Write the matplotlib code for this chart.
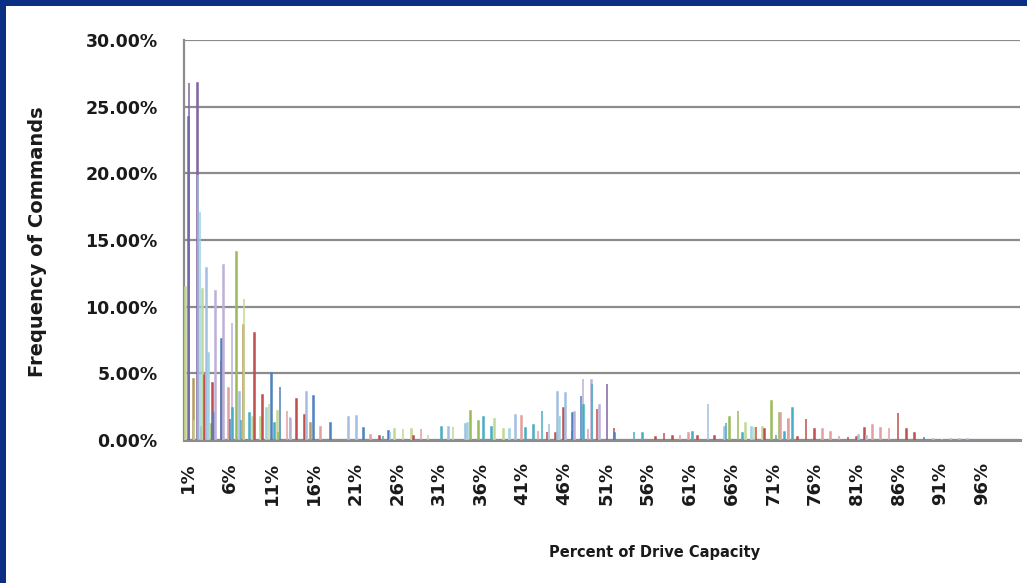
import numpy as np
import matplotlib
matplotlib.use("Agg")
import matplotlib.pyplot as plt
from matplotlib.patches import Rectangle

# capacity buckets 1% .. 100%
categories = [f"{i}%" for i in range(1, 101)]

# share of commands (%) per bucket, one dict per workload; buckets not listed are ~0
olive = {1: 8.2, 2: 4.6, 3: 1.0, 8: 8.6, 16: 1.3}
light_green = {1: 11.5, 2: 1.5, 3: 11.3, 8: 10.6, 9: 1.7, 10: 1.7, 11: 2.7, 12: 2.2,
               26: 0.8, 27: 0.8, 28: 0.8, 30: 0.4, 33: 1.0, 38: 1.6, 39: 0.8,
               68: 1.3, 69: 1.0, 70: 1.0}
green = {4: 1.2, 7: 14.1, 12: 0.6, 35: 2.2, 36: 1.4, 66: 1.7, 67: 2.2, 71: 2.9,
         72: 2.0, 73: 1.6}
pink = {6: 3.9, 13: 2.2, 17: 1.0, 23: 0.4, 29: 0.85, 41: 1.8, 43: 0.7, 49: 0.8,
        60: 0.4, 61: 0.5, 72: 2.0, 73: 1.6, 77: 0.8, 78: 0.6, 79: 0.3, 83: 1.1,
        84: 0.9, 85: 0.9}
red = {3: 4.9, 4: 4.3, 5: 5.9, 9: 8.0, 10: 3.4, 14: 3.1, 15: 1.9, 24: 0.3, 28: 0.3,
       44: 0.6, 45: 0.5, 46: 2.4, 47: 0.7, 50: 2.3, 52: 0.9, 57: 0.2, 58: 0.5,
       59: 0.3, 62: 0.3, 64: 0.3, 69: 1.0, 70: 0.8, 74: 0.2, 75: 1.6, 76: 0.8,
       80: 0.2, 81: 0.2, 82: 0.9, 86: 2.0, 87: 0.8, 88: 0.5}
blue = {1: 24.2, 4: 2.0, 5: 7.6, 6: 1.6, 11: 5.0, 12: 4.0, 16: 3.3, 18: 1.3,
        22: 0.9, 25: 0.7, 47: 2.0, 48: 3.3, 52: 0.5, 89: 0.2}
purple = {1: 26.8, 2: 26.8, 51: 4.2}
light_blue = {2: 19.9, 3: 12.9, 7: 3.6, 13: 1.7, 15: 3.6, 20: 1.7, 21: 1.8, 25: 0.6,
              32: 1.0, 34: 1.2, 40: 1.9, 44: 1.2, 45: 3.6, 46: 3.5, 63: 2.7, 65: 1.0,
              81: 0.4, 82: 0.3, 90: 0.1, 91: 0.1, 92: 0.1}
lavender = {4: 11.2, 5: 13.1, 6: 8.8, 13: 1.6, 47: 2.1, 48: 4.6, 49: 4.5, 50: 2.6,
            93: 0.1, 94: 0.1}
cyan = {6: 2.4, 7: 1.5, 8: 2.0, 11: 1.3, 24: 0.3, 31: 1.0, 36: 1.7, 37: 1.0, 41: 0.9,
        42: 1.1, 43: 2.2, 48: 2.6, 49: 4.2, 54: 0.6, 55: 0.5, 61: 0.6, 65: 1.3,
        67: 0.5, 71: 0.4, 72: 0.6, 73: 2.4}
light_cyan = {2: 17.1, 3: 6.5, 10: 2.4, 34: 1.3, 39: 0.8, 45: 1.7, 68: 1.0}

series = [
    (olive, "#B59C62"),
    (light_green, "#C2D896"),
    (green, "#9BBB59"),
    (pink, "#E0A09F"),
    (red, "#C0504D"),
    (blue, "#4F81BD"),
    (purple, "#8064A2"),
    (light_blue, "#A3BFE2"),
    (lavender, "#BEB0D6"),
    (cyan, "#4BACC6"),
    (light_cyan, "#9FD3E1"),
]

def to_array(d):
    vals = np.zeros(len(categories))
    for k, v in d.items():
        vals[k - 1] = v / 100.0
    return vals

fig = plt.figure(figsize=(10.27, 5.83), dpi=100, facecolor="#0B2F82")
# white slide area inside the blue border
fig.patches.append(Rectangle((6 / 1027, 0), 1, 1 - 6 / 583, transform=fig.transFigure,
                             facecolor="white", edgecolor="none", zorder=-5))

ax = fig.add_axes([184 / 1027, 1 - 440 / 583, (1020 - 184) / 1027, 400 / 583])
ax.set_facecolor("none")
ax.set_zorder(2)

x = np.arange(len(categories))
n = len(series)
w = 0.08
for i, (d, col) in enumerate(series):
    off = (i - (n - 1) / 2) * w
    vals = to_array(d)
    keep = vals > 0  # empty buckets get no bar at all
    ax.bar(x[keep] + off, vals[keep], width=w, color=col, edgecolor=col,
           linewidth=1.1, zorder=3)

ax.set_xlim(-0.5, len(categories) - 0.5)
ax.set_ylim(0, 0.30)
yt = np.arange(0, 0.301, 0.05)
ax.set_yticks(yt)
ax.set_yticklabels([f"{v * 100:.2f}%" for v in yt], fontsize=12.5,
                   fontweight="bold", color="#1A1A1A")
ax.set_xticks(x[::5])
ax.set_xticklabels(categories[::5], rotation=90, fontsize=13, fontweight="bold",
                   color="#1A1A1A", va="top")
ax.tick_params(axis="both", length=0)
ax.tick_params(axis="x", pad=16)
ax.tick_params(axis="y", pad=19)

ax.grid(axis="y", color="#8C8C8C", linewidth=1.6, zorder=0)
ax.set_axisbelow(True)
for s in ["top", "right"]:
    ax.spines[s].set_visible(False)
ax.spines["left"].set_color("#8C8C8C")
ax.spines["left"].set_linewidth(1.6)
ax.spines["bottom"].set_color("#8C8C8C")
ax.spines["bottom"].set_linewidth(2.2)

fig.text(655 / 1027, 1 - 553 / 583, "Percent of Drive Capacity", ha="center",
         va="center", fontsize=10.5, fontweight="bold", color="#1A1A1A")
fig.text(38 / 1027, 1 - 242 / 583, "Frequency of Commands", ha="center",
         va="center", rotation=90, fontsize=14, fontweight="bold", color="#1A1A1A")

fig.savefig("out.png", dpi=100, facecolor=fig.get_facecolor())
